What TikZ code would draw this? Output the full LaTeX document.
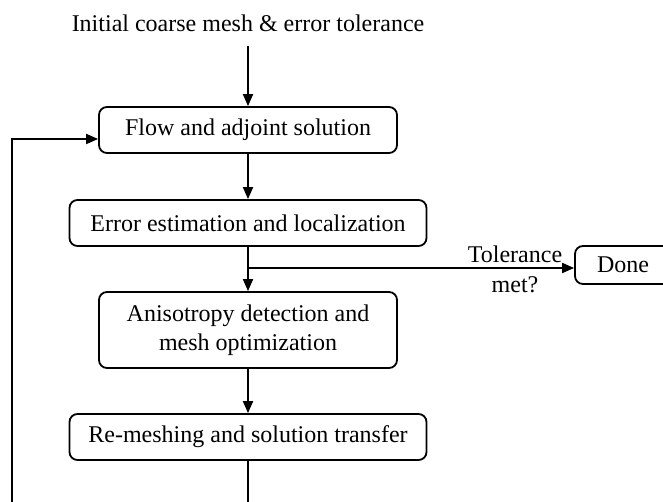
\documentclass[tikz,border=0pt]{standalone}
\usepackage{fontspec}
\setmainfont{Liberation Serif}
\usetikzlibrary{arrows.meta,calc}
\begin{document}
\begin{tikzpicture}[x=1pt,y=-1pt,
  txt/.style={font=\fontsize{24}{29}\selectfont,inner sep=0pt},
  box/.style={txt,draw,line width=1.8pt,rounded corners=8pt,align=center},
  arr/.style={line width=1.8pt,-{Triangle[length=12pt,width=10pt]}}]
\useasboundingbox (0,0) rectangle (663,502);
\clip (0,0) rectangle (663,502);
\node[txt,anchor=base] (title) at (248,32) {Initial coarse mesh \& error tolerance};
\node[box,minimum width=298pt,minimum height=46pt] (flow) at (248,130) {Flow and adjoint solution};
\node[box,minimum width=357pt,minimum height=46pt] (error) at (248,223) {Error estimation and localization};
\node[box,minimum width=298pt,minimum height=76pt] (aniso) at (248,330) {Anisotropy detection and\\mesh optimization};
\node[box,minimum width=357pt,minimum height=46pt] (remesh) at (248,437) {Re-meshing and solution transfer};
\node[box,minimum width=96pt,minimum height=38pt] (done) at (623,265) {Done};
\node[txt,anchor=base] (tol) at (515,262) {Tolerance};
\node[txt,anchor=base] (met) at (515,292) {met?};
\coordinate (br) at (248,268);
\coordinate (lp) at (12,139);
\coordinate (bt) at (248,540);
\draw[arr,shorten <=14pt] (title.south) -- (flow.north);
\draw[arr] (flow.south) -- (error.north);
\draw[arr] (error.south) -- (aniso.north);
\draw[arr] (br) -- (br -| done.west);
\draw[arr] (aniso.south) -- (remesh.north);
\draw[arr] (remesh.south) -- (bt) -| (lp) -- (lp -| flow.west);
\end{tikzpicture}
\end{document}
